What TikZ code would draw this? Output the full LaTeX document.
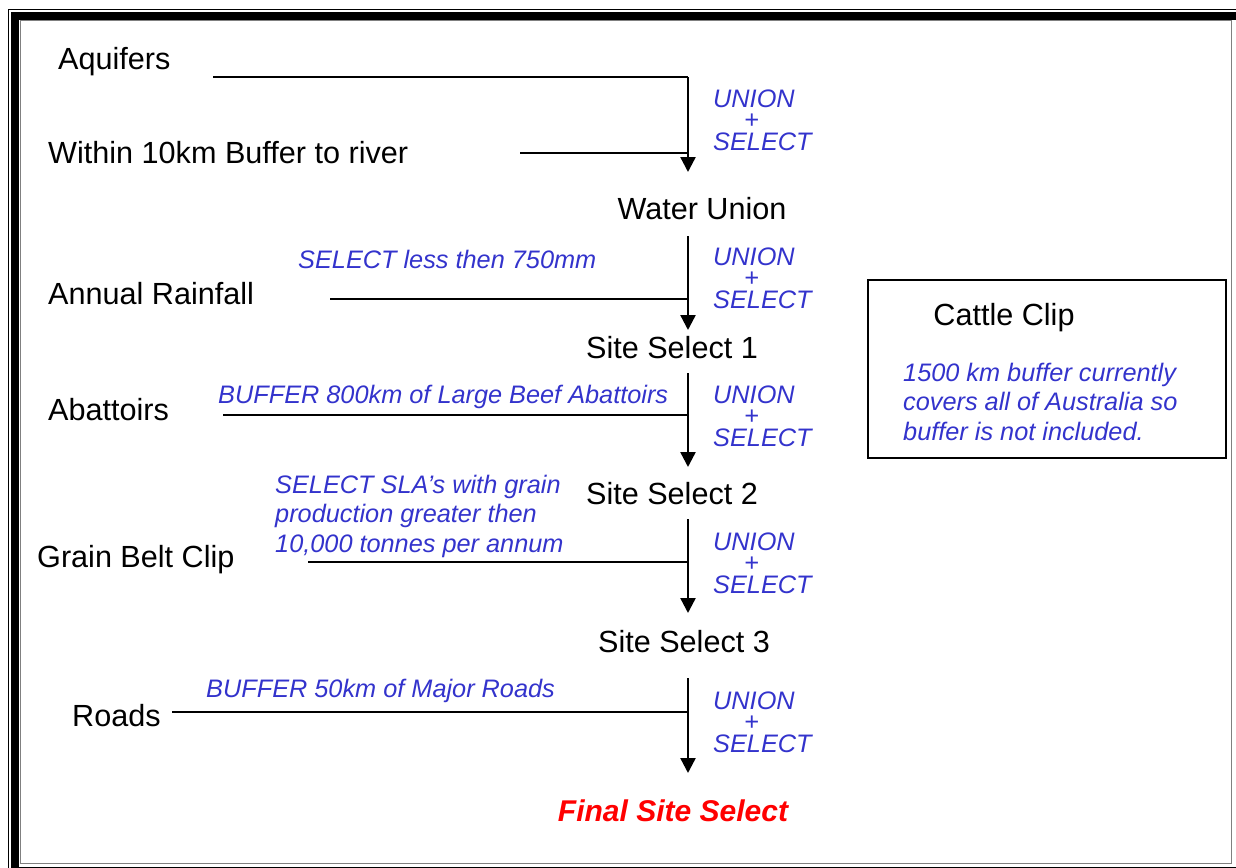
\documentclass[tikz,border=0pt]{standalone}
\usepackage{fontspec}
\setmainfont{Liberation Sans}
\usetikzlibrary{arrows.meta}
\definecolor{opblue}{RGB}{51,51,204}
\definecolor{opred}{RGB}{255,0,0}
\begin{document}
\begin{tikzpicture}[x=1pt,y=-1pt,
	lbl/.style={font=\fontsize{30.6}{34}\selectfont, inner sep=0pt, anchor=base west},
	op/.style={font=\fontsize{25.3}{29.5}\selectfont\itshape, text=opblue, inner sep=0pt, anchor=base west, align=left},
	unsel/.style={op, font=\fontsize{25.3}{21.5}\selectfont\itshape},
	feed/.style={line width=1.6pt},
	flow/.style={line width=2.4pt, -{Triangle[length=15pt,width=15pt]}}]
	\useasboundingbox (0,0) rectangle (1236,867);
	
	% Rahmen (doppelt)
	\draw[line width=1pt] (8.5,9.5) rectangle (1260,890);
	\draw[line width=7.5pt] (15,16) rectangle (1240,871);
	\draw[gray, line width=1pt] (20,20.5) rectangle (1231.5,863.5);
	
	% Eingangsdaten links
	\node[lbl] (aqui) at (58,70) {Aquifers};
	\node[lbl] (river) at (48,163) {Within 10km Buffer to river};
	\node[lbl] (rain) at (48,304) {Annual Rainfall};
	\node[lbl] (abat) at (48,420) {Abattoirs};
	\node[lbl] (grain) at (37,567) {Grain Belt Clip};
	\node[lbl] (roads) at (72,726) {Roads};
	
	% Zwischenergebnisse
	\node[lbl, anchor=base] (water) at (702,219) {Water Union};
	\node[lbl, anchor=base] (site1) at (672,358) {Site Select 1};
	\node[lbl, anchor=base] (site2) at (672,504) {Site Select 2};
	\node[lbl, anchor=base] (site3) at (684,652) {Site Select 3};
	\node[lbl, anchor=base, font=\fontsize{30}{33}\selectfont\bfseries\itshape, text=opred] (final) at (673,821) {Final Site Select};
	
	% Operationen (Basislinie = letzte Zeile)
	\node[unsel] (op1) at (713,150) {UNION\\\hspace*{31pt}+\\SELECT};
	\node[unsel] (op2) at (713,308) {UNION\\\hspace*{31pt}+\\SELECT};
	\node[unsel] (op3) at (713,446) {UNION\\\hspace*{31pt}+\\SELECT};
	\node[unsel] (op4) at (713,593) {UNION\\\hspace*{31pt}+\\SELECT};
	\node[unsel] (op5) at (713,752) {UNION\\\hspace*{31pt}+\\SELECT};
	\node[op] (selrain) at (298,268) {SELECT less then 750mm};
	\node[op] (bufabat) at (218,403) {BUFFER 800km of Large Beef Abattoirs};
	\node[op] (selgrain) at (275,552) {SELECT SLA's with grain\\production greater then\\10,000 tonnes per annum};
	\node[op] (bufroads) at (206,697) {BUFFER 50km of Major Roads};
	
	% Cattle Clip (Kasten rechts)
	\node[draw, line width=1.3pt, minimum width=358pt, minimum height=178pt, inner sep=0pt] (cattle) at (1047,369) {};
	\node[lbl, anchor=base] (cattlet) at (1004,325) {Cattle Clip};
	\node[op] (cattlenote) at (903,440) {1500 km buffer currently\\covers all of Australia so\\buffer is not included.};
	
	% Verbindungen
	\coordinate (a1) at (213,77);   \coordinate (j1) at (688,77);
	\coordinate (b1) at (520,153);  \coordinate (t1) at (688,172);
	\draw[feed] (a1) -- (j1);
	\draw[feed] (b1) -- (b1 -| j1);
	\draw[flow] (j1) -- (t1);
	
	\coordinate (j2) at (688,236);  \coordinate (t2) at (688,330);
	\coordinate (b2) at (330,299);
	\draw[feed] (b2) -- (b2 -| j2);
	\draw[flow] (j2) -- (t2);
	
	\coordinate (j3) at (688,373);  \coordinate (t3) at (688,467);
	\coordinate (b3) at (223,415);
	\draw[feed] (b3) -- (b3 -| j3);
	\draw[flow] (j3) -- (t3);
	
	\coordinate (j4) at (688,519);  \coordinate (t4) at (688,613);
	\coordinate (b4) at (308,562);
	\draw[feed] (b4) -- (b4 -| j4);
	\draw[flow] (j4) -- (t4);
	
	\coordinate (j5) at (688,678);  \coordinate (t5) at (688,773);
	\coordinate (b5) at (172,712);
	\draw[feed] (b5) -- (b5 -| j5);
	\draw[flow] (j5) -- (t5);
\end{tikzpicture}
\end{document}
